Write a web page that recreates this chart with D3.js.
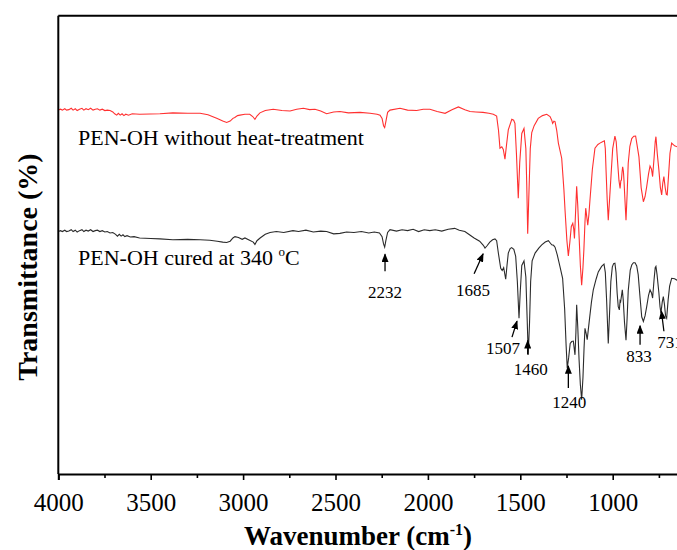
<!DOCTYPE html>
<html>
<head>
<meta charset="utf-8">
<script src="https://cdn.jsdelivr.net/npm/d3@7"></script>
<style>
  html, body { margin: 0; padding: 0; background: #fff; overflow: hidden; }
  svg { display: block; font-family: "Liberation Serif", "Times New Roman", serif; }
</style>
</head>
<body>
<div id="chart"></div>
<script>
// FTIR spectra of PEN-OH before and after curing.

// [wavenumber (cm-1), transmittance (a.u., offset per trace)]
const curedSpectrum = [
    [4000, 52.9], [3988, 53.1], [3978, 52.9], [3965, 53.2], [3955, 52.9], [3943, 53.0],
    [3930, 53.3], [3920, 52.9], [3908, 53.2], [3898, 52.8], [3885, 53.1], [3872, 53.3],
    [3862, 52.9], [3850, 53.2], [3838, 53.0], [3825, 53.3], [3812, 52.9], [3800, 53.1],
    [3788, 53.2], [3775, 52.9], [3762, 53.1], [3748, 52.8], [3735, 52.9], [3720, 52.6],
    [3705, 52.7], [3690, 52.3], [3680, 51.9], [3670, 52.3], [3660, 51.9], [3650, 52.2],
    [3640, 51.8], [3628, 52.0], [3610, 51.7], [3590, 51.8], [3560, 51.5], [3500, 51.4],
    [3450, 51.3], [3380, 51.1], [3300, 51.2], [3233, 51.1], [3180, 51.0], [3140, 50.8],
    [3110, 50.6], [3089, 50.5], [3070, 50.8], [3055, 51.5], [3044, 51.8], [3025, 51.6],
    [3005, 51.2], [2990, 51.5], [2965, 51.0], [2945, 50.6], [2936, 50.1], [2925, 50.9],
    [2908, 51.5], [2880, 52.3], [2854, 52.7], [2820, 52.9], [2780, 52.7], [2730, 53.1],
    [2700, 52.9], [2660, 53.2], [2620, 52.8], [2580, 53.0], [2548, 52.9], [2510, 52.4],
    [2476, 52.5], [2440, 52.8], [2400, 52.7], [2360, 52.9], [2320, 52.6], [2290, 52.8],
    [2262, 52.6], [2248, 51.8], [2240, 50.2], [2234, 49.5], [2228, 50.8], [2218, 52.7],
    [2205, 53.3], [2170, 53.0], [2140, 53.3], [2110, 53.1], [2080, 53.4], [2050, 52.9],
    [2020, 53.3], [1990, 53.1], [1960, 53.3], [1925, 53.0], [1890, 53.4], [1855, 53.6],
    [1830, 53.2], [1800, 52.9], [1775, 52.2], [1750, 51.5], [1720, 50.8], [1700, 49.9],
    [1691, 49.3], [1680, 49.8], [1665, 50.6], [1650, 51.1], [1637, 51.3], [1628, 50.9],
    [1618, 48.0], [1606, 44.9], [1598, 44.4], [1590, 45.0], [1579, 42.5], [1572, 45.5],
    [1565, 48.2], [1555, 49.2], [1547, 49.4], [1535, 49.0], [1525, 47.5], [1516, 42.0],
    [1507, 34.0], [1500, 40.0], [1492, 45.5], [1480, 46.5], [1470, 43.0], [1463, 34.0],
    [1457, 26.0], [1450, 33.0], [1444, 42.0], [1436, 46.5], [1420, 48.2], [1400, 49.3],
    [1384, 50.0], [1365, 50.6], [1348, 50.9], [1338, 50.4], [1330, 50.0], [1320, 49.9],
    [1312, 49.5], [1300, 47.8], [1285, 45.2], [1271, 42.7], [1260, 36.0], [1252, 28.0],
    [1246, 23.1], [1238, 25.5], [1230, 28.5], [1222, 28.9], [1213, 29.0], [1204, 26.0],
    [1199, 31.0], [1195, 36.9], [1189, 32.0], [1182, 25.0], [1175, 19.5], [1168, 16.2],
    [1161, 21.0], [1155, 27.5], [1150, 31.8], [1143, 30.5], [1138, 29.3], [1132, 31.5],
    [1125, 34.0], [1115, 37.5], [1105, 40.2], [1090, 42.5], [1078, 44.1], [1060, 45.3],
    [1047, 45.8], [1040, 44.0], [1033, 38.0], [1024, 28.5], [1017, 35.0], [1010, 42.0],
    [1002, 45.2], [995, 45.9], [988, 46.0], [982, 44.0], [976, 39.5], [970, 36.5],
    [964, 35.8], [960, 37.8], [957, 37.6], [952, 39.0], [948, 40.2], [943, 38.0],
    [936, 33.0], [928, 29.2], [922, 34.0], [916, 40.0], [905, 44.5], [897, 45.6],
    [888, 46.1], [879, 46.1], [870, 45.4], [862, 43.5], [852, 38.5], [843, 34.3],
    [834, 33.3], [825, 34.5], [816, 36.5], [806, 39.0], [798, 40.2], [790, 39.5],
    [784, 38.4], [776, 42.5], [770, 45.0], [766, 45.3], [760, 43.5], [750, 39.5],
    [744, 36.5], [739, 35.1], [732, 37.5], [726, 38.7], [720, 37.0], [714, 34.5],
    [708, 34.0], [700, 38.0], [692, 41.0], [681, 42.7], [665, 42.6], [652, 42.3],
    [640, 42.1]
];

const rawSpectrum = [
    [4000, 79.4], [3988, 79.6], [3978, 79.4], [3965, 79.7], [3955, 79.4], [3943, 79.5],
    [3930, 79.8], [3920, 79.4], [3908, 79.7], [3898, 79.3], [3885, 79.6], [3872, 79.8],
    [3862, 79.4], [3850, 79.7], [3838, 79.5], [3825, 79.8], [3812, 79.4], [3800, 79.6],
    [3788, 79.7], [3775, 79.4], [3762, 79.6], [3748, 79.3], [3735, 79.4], [3720, 79.3],
    [3705, 79.0], [3695, 78.6], [3684, 78.3], [3675, 78.7], [3665, 78.3], [3655, 78.6],
    [3645, 78.2], [3635, 78.5], [3620, 78.3], [3600, 78.6], [3560, 78.5], [3503, 78.55],
    [3450, 78.6], [3380, 78.8], [3300, 78.7], [3233, 78.7], [3190, 78.4], [3160, 77.9],
    [3143, 77.6], [3110, 77.0], [3089, 76.7], [3070, 77.0], [3055, 77.6], [3045, 77.8],
    [3030, 78.2], [3017, 78.3], [2990, 78.5], [2964, 78.5], [2948, 78.0], [2936, 77.4],
    [2925, 78.1], [2909, 78.8], [2880, 79.3], [2837, 79.6], [2790, 79.3], [2746, 79.2],
    [2710, 79.6], [2674, 79.8], [2640, 79.5], [2611, 79.6], [2580, 79.2], [2548, 78.6],
    [2510, 79.0], [2476, 79.1], [2430, 78.8], [2367, 78.9], [2313, 78.7], [2275, 78.5],
    [2259, 78.3], [2248, 77.6], [2240, 76.0], [2234, 75.6], [2228, 76.8], [2218, 78.9],
    [2205, 79.4], [2151, 79.8], [2110, 79.4], [2061, 79.3], [2025, 79.6], [1989, 79.6],
    [1950, 79.1], [1907, 78.7], [1870, 79.5], [1835, 80.1], [1800, 79.5], [1772, 79.1],
    [1740, 79.0], [1702, 78.9], [1670, 78.7], [1646, 78.5], [1628, 78.1], [1618, 75.0],
    [1610, 71.1], [1600, 71.4], [1592, 70.8], [1583, 68.7], [1574, 72.0], [1565, 75.1],
    [1546, 77.4], [1536, 77.2], [1529, 76.5], [1521, 70.0], [1511, 60.2], [1503, 68.0],
    [1492, 74.3], [1480, 75.4], [1470, 71.0], [1465, 63.0], [1460, 52.4], [1452, 63.0],
    [1446, 71.0], [1438, 74.5], [1425, 76.0], [1403, 77.6], [1380, 78.2], [1357, 78.5],
    [1339, 78.0], [1330, 77.2], [1325, 76.5], [1318, 77.0], [1312, 76.9], [1303, 75.0],
    [1294, 72.2], [1276, 68.9], [1264, 62.0], [1258, 57.6], [1248, 51.0], [1240, 47.6],
    [1232, 50.5], [1224, 54.0], [1216, 54.7], [1211, 53.5], [1207, 51.4], [1201, 57.0],
    [1195, 62.8], [1189, 58.5], [1182, 52.0], [1175, 45.5], [1168, 41.2], [1161, 45.0],
    [1156, 48.9], [1150, 55.0], [1146, 58.0], [1140, 56.0], [1135, 54.3], [1129, 56.5],
    [1123, 59.8], [1110, 66.5], [1096, 71.1], [1080, 71.9], [1069, 72.2], [1055, 72.5],
    [1045, 72.7], [1040, 71.0], [1036, 66.3], [1030, 60.0], [1024, 55.4], [1016, 60.5],
    [1009, 65.2], [1000, 71.0], [988, 73.75], [981, 72.5], [973, 67.8], [966, 64.0],
    [960, 62.3], [956, 64.0], [953, 64.1], [949, 66.0], [946, 67.0], [942, 66.0],
    [939, 64.1], [934, 60.0], [928, 55.4], [922, 61.0], [916, 67.8], [907, 71.5],
    [897, 73.2], [886, 73.7], [876, 73.75], [867, 71.5], [858, 69.2], [846, 62.5],
    [834, 59.4], [825, 60.5], [816, 62.7], [806, 65.5], [798, 67.2], [790, 66.5],
    [784, 64.9], [776, 69.0], [770, 72.5], [766, 73.6], [759, 70.0], [750, 66.3],
    [742, 62.5], [735, 60.9], [729, 63.5], [723, 64.9], [716, 62.5], [710, 61.0],
    [705, 60.9], [698, 65.0], [690, 70.0], [681, 72.2], [665, 71.6], [652, 71.4],
    [640, 71.6]
];

const majorTicks = [4000, 3500, 3000, 2500, 2000, 1500, 1000];
const minorTicks = [3750, 3250, 2750, 2250, 1750, 1250, 750];

// peaks marked on the cured trace
const peakLabels = [2232, 1685, 1507, 1460, 1240, 833, 731];

const width = 677, height = 550;
const margin = { left: 58.3, top: 15.7, bottom: 474 };

const svg = d3.select('#chart')
    .append('svg')
    .attr('width', width)
    .attr('height', height);

const x = d3.scaleLinear()
    .domain([4000, 400])
    .range([margin.left, margin.left + 3600 * 0.1848]);

const y = d3.scaleLinear()
    .domain([0, 100])
    .range([margin.bottom, margin.top]);

// Arrow head marker.
svg.append('defs').append('marker')
    .attr('id', 'head')
    .attr('viewBox', '0 -4 10 8')
    .attr('refX', 9)
    .attr('refY', 0)
    .attr('orient', 'auto')
    .attr('markerUnits', 'userSpaceOnUse')
    .attr('markerWidth', 9)
    .attr('markerHeight', 7)
    .append('path')
    .attr('d', 'M0,-4L10,0L0,4Z')
    .attr('fill', '#000');

// Spectra.
const line = d3.line()
    .x(d => x(d[0]))
    .y(d => y(d[1]));

svg.append('path')
    .datum(rawSpectrum)
    .attr('d', line)
    .attr('fill', 'none')
    .attr('stroke', '#ff3030')
    .attr('stroke-width', 1.1);

svg.append('path')
    .datum(curedSpectrum)
    .attr('d', line)
    .attr('fill', 'none')
    .attr('stroke', '#2b2b2b')
    .attr('stroke-width', 1.1);

// Frame: top and left edges, right edge sits past the window.
const frame = svg.append('g')
    .attr('fill', 'none')
    .attr('stroke', '#000')
    .attr('stroke-width', 2);
frame.append('line')
    .attr('x1', x(4000)).attr('x2', x(400))
    .attr('y1', y(100)).attr('y2', y(100));
frame.append('line')
    .attr('x1', x(4000)).attr('x2', x(4000))
    .attr('y1', y(100)).attr('y2', y(0));
frame.append('line')
    .attr('x1', x(400)).attr('x2', x(400))
    .attr('y1', y(100)).attr('y2', y(0));

// Bottom axis with major and minor ticks.
const xAxis = svg.append('g')
    .attr('transform', `translate(0,${margin.bottom})`)
    .call(d3.axisBottom(x).tickValues(majorTicks).tickSize(6).tickFormat(d3.format('d')));
xAxis.select('.domain').attr('stroke-width', 2);
xAxis.selectAll('.tick line').attr('stroke-width', 1.6);
xAxis.selectAll('.tick text')
    .attr('y', 36.5)
    .attr('dy', 0)
    .attr('fill', '#000')
    .style('font-family', '"Liberation Serif", "Times New Roman", serif')
    .style('font-size', '25px');

svg.append('g')
    .attr('transform', `translate(0,${margin.bottom})`)
    .call(d3.axisBottom(x).tickValues(minorTicks).tickSize(4).tickFormat(''))
    .call(g => g.select('.domain').remove())
    .selectAll('.tick line').attr('stroke-width', 1.6);

// Axis titles.
const xTitle = svg.append('text')
    .attr('x', 358)
    .attr('y', 545)
    .attr('text-anchor', 'middle')
    .style('font-size', '27px')
    .style('font-weight', 'bold');
xTitle.append('tspan').text('Wavenumber (cm');
xTitle.append('tspan').attr('dy', -10).style('font-size', '16px').text('-1');
xTitle.append('tspan').attr('dy', 10).text(')');

svg.append('text')
    .attr('transform', 'translate(37,267) rotate(-90)')
    .attr('text-anchor', 'middle')
    .style('font-size', '28px')
    .style('font-weight', 'bold')
    .text('Transmittance (%)');

// Trace labels.
svg.append('text')
    .attr('x', 78)
    .attr('y', 145)
    .style('font-size', '22px')
    .text('PEN-OH without heat-treatment');

const curedLabel = svg.append('text')
    .attr('x', 78)
    .attr('y', 265)
    .style('font-size', '22px');
curedLabel.append('tspan').text('PEN-OH cured at 340 ');
curedLabel.append('tspan').attr('dy', -9).style('font-size', '13px').text('o');
curedLabel.append('tspan').attr('dy', 9).text('C');

// Peak callouts: tip offset from the trace, arrow vector, label offset from the tail.
const calloutLayout = {
    2232: { tip: [0, 9], vec: [0, 17], text: [0, 27] },
    1685: { tip: [-3, 7], vec: [-9, 20], text: [-1, 22] },
    1507: { tip: [-2, 3], vec: [-5, 16], text: [-9, 17] },
    1460: { tip: [0, 4], vec: [0, 14], text: [3, 20] },
    1240: { tip: [0, 6], vec: [0, 22], text: [1, 20] },
    833: { tip: [-3.5, 5], vec: [0, 19], text: [-1, 17] },
    731: { tip: [-1, 10], vec: [2.5, 20], text: [6, 17] }
};

const wnAscending = curedSpectrum.slice().reverse();
const bisect = d3.bisector(d => d[0]).left;
function curedAt(wn) {
    const i = bisect(wnAscending, wn);
    const a = wnAscending[i - 1], b = wnAscending[i];
    if (!a) return b[1];
    if (!b) return a[1];
    const t = (wn - a[0]) / (b[0] - a[0]);
    return a[1] + t * (b[1] - a[1]);
}

const callouts = svg.append('g');
peakLabels.forEach(wn => {
    const lay = calloutLayout[wn];
    const px = x(wn), py = y(curedAt(wn));
    const tipX = px + lay.tip[0], tipY = py + lay.tip[1];
    const tailX = tipX + lay.vec[0], tailY = tipY + lay.vec[1];
    callouts.append('line')
        .attr('x1', tailX).attr('y1', tailY)
        .attr('x2', tipX).attr('y2', tipY)
        .attr('stroke', '#000')
        .attr('stroke-width', 1.3)
        .attr('marker-end', 'url(#head)');
    callouts.append('text')
        .attr('x', tailX + lay.text[0])
        .attr('y', tailY + lay.text[1])
        .attr('text-anchor', 'middle')
        .style('font-size', '17px')
        .text(wn);
});
</script>
</body>
</html>
